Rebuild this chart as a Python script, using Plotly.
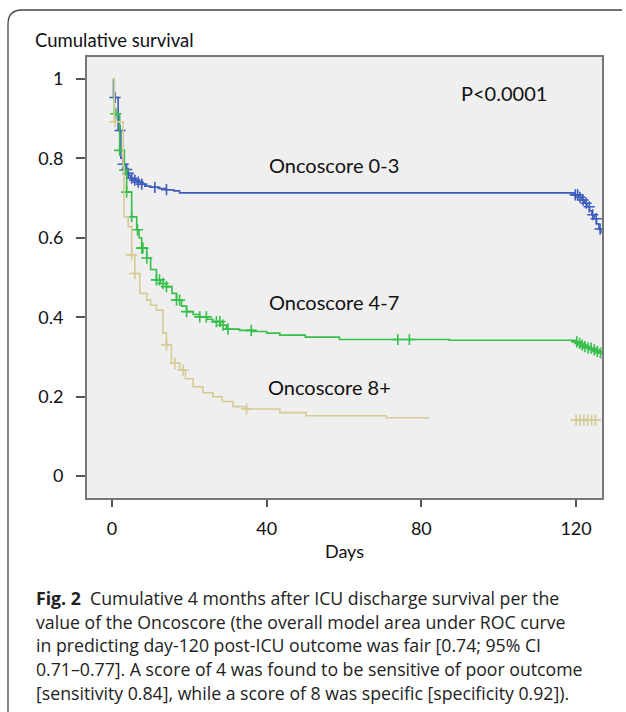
import plotly.graph_objects as go
import bisect

# ---------------- data ----------------
blue_t = [0.3, 0.4, 1.6, 2.3, 2.9, 3.4, 3.9, 4.4, 4.9, 5.6, 6.5, 7.5, 8.5, 10, 12, 14, 16, 17.5,
          119.5, 120.5, 121.5, 122.2, 122.8, 123.5, 124.1, 124.7, 125.3, 125.9, 126.4]
blue_s = [1.0, 0.953, 0.87, 0.80, 0.785, 0.772, 0.762, 0.756, 0.75, 0.745, 0.74, 0.735, 0.73,
          0.727, 0.724, 0.721, 0.718, 0.713, 0.708, 0.702, 0.695, 0.687, 0.678, 0.668, 0.658,
          0.648, 0.635, 0.622, 0.612]
blue_censor = [0.8, 2.1, 2.9, 3.8, 4.2, 5.1, 5.9, 6.8, 7.7, 11.1, 14.1,
               119.8, 120.4, 121.0, 121.8, 122.6, 123.4, 124.3, 125.2, 126.2]

green_t = [0.3, 0.6, 2.0, 3.2, 3.8, 5.1, 6.4, 7.0, 7.7, 9.0, 10.0, 11.5, 12.5, 14.1, 15.5, 16.7,
           18.0, 19.3, 21.0, 22.7, 24.5, 26.1, 28.0, 29.6, 33.0, 36.4, 40.0, 43.4, 50.0, 58.8,
           87.2, 120.0, 120.8, 121.5, 122.3, 123.0, 124.0, 124.8, 125.6, 126.4]
green_s = [1.0, 0.912, 0.82, 0.77, 0.715, 0.653, 0.62, 0.60, 0.574, 0.549, 0.52, 0.494, 0.485,
           0.477, 0.46, 0.443, 0.428, 0.414, 0.407, 0.401, 0.395, 0.389, 0.38, 0.37, 0.367,
           0.364, 0.36, 0.355, 0.35, 0.344, 0.342, 0.338, 0.334, 0.33, 0.326, 0.322, 0.318,
           0.314, 0.31, 0.305]
green_censor = [1.0, 2.0, 3.3, 3.8, 5.1, 6.6, 7.7, 8.0, 9.0, 11.5, 12.3, 13.2, 14.1, 16.7, 17.5,
                19.3, 22.7, 24.4, 27.0, 27.9, 28.7, 30.0, 36.0, 73.9, 76.9,
                120.2, 120.9, 121.6, 122.3, 123.1, 123.9, 124.7, 125.5, 126.3]

tan_t = [0.3, 0.6, 2.9, 3.1, 4.2, 5.1, 5.9, 7.2, 9.0, 10.0, 11.5, 13.2, 14.1, 15.4, 17.5, 19.0,
         21.0, 23.5, 26.1, 28.5, 31.3, 34.8, 43.4, 50.2, 70.9, 82.0]
tan_s = [1.0, 0.892, 0.78, 0.653, 0.628, 0.557, 0.51, 0.46, 0.443, 0.43, 0.418, 0.36, 0.33,
         0.284, 0.267, 0.245, 0.225, 0.21, 0.20, 0.188, 0.175, 0.169, 0.160, 0.152, 0.147, 0.147]
tan_censor = [0.8, 5.1, 5.9, 14.1, 16.3, 18.4, 34.8]
tan_late_censor = [120.0, 121.0, 122.0, 123.0, 124.0, 125.0]
tan_late_level = 0.141

x_ticks = [0, 40, 80, 120]
y_ticks = [0, 0.2, 0.4, 0.6, 0.8, 1.0]
y_tick_labels = ["0", "0.2", "0.4", "0.6", "0.8", "1"]

curve_labels = ["Oncoscore 0-3", "Oncoscore 4-7", "Oncoscore 8+"]
curve_label_pos = [(57.5, 0.783), (57.3, 0.439), (56.3, 0.224)]
p_text = "P<0.0001"
p_pos = (101.4, 0.965)

caption_lines = [
    "<b>Fig. 2</b>  Cumulative 4 months after ICU discharge survival per the",
    "value of the Oncoscore (the overall model area under ROC curve",
    "in predicting day-120 post-ICU outcome was fair [0.74; 95% CI",
    "0.71\u20130.77]. A score of 4 was found to be sensitive of poor outcome",
    "[sensitivity 0.84], while a score of 8 was specific [specificity 0.92]).",
]

colors = ["#3e5cbd", "#36bf4b", "#d5cb94"]

# ---------------- figure ----------------
W, H = 626, 712
def px(x):
    return x / W
def py(y):
    return 1 - y / H

def step_at(ts, ss, t):
    i = bisect.bisect_right(ts, t) - 1
    return ss[max(i, 0)]

fig = go.Figure()
series = [(blue_t, blue_s, blue_censor), (green_t, green_s, green_censor), (tan_t, tan_s, tan_censor)]
for (ts, ss, cs), c in zip(series, colors):
    fig.add_trace(go.Scatter(x=ts, y=ss, mode="lines", line=dict(color=c, width=1.6, shape="hv"),
                             hoverinfo="skip", showlegend=False))
    fig.add_trace(go.Scatter(x=cs, y=[step_at(ts, ss, t) for t in cs], mode="markers",
                             marker=dict(symbol="cross-thin", size=8, line=dict(color=c, width=1.6)),
                             hoverinfo="skip", showlegend=False))
fig.add_trace(go.Scatter(x=tan_late_censor, y=[tan_late_level] * len(tan_late_censor), mode="markers",
                         marker=dict(symbol="cross-thin", size=8, line=dict(color=colors[2], width=1.6)),
                         hoverinfo="skip", showlegend=False))

font_main = "Lato, 'Open Sans', sans-serif"

for txt, (x, y) in zip(curve_labels, curve_label_pos):
    fig.add_annotation(x=x, y=y, text=txt, showarrow=False, xref="x", yref="y",
                       font=dict(family=font_main, size=20, color="#111"))
fig.add_annotation(x=p_pos[0], y=p_pos[1], text=p_text, showarrow=False, xref="x", yref="y",
                   font=dict(family=font_main, size=20, color="#111"))

fig.add_annotation(x=px(33), y=py(40), text="Cumulative survival", showarrow=False, xref="paper",
                   yref="paper", xanchor="left", yanchor="middle",
                   font=dict(family=font_main, size=18.5, color="#111"))

for i, line in enumerate(caption_lines):
    fig.add_annotation(x=px(34), y=py(598 + 23.7 * i), text=line, showarrow=False, xref="paper",
                       yref="paper", xanchor="left", yanchor="middle",
                       font=dict(family="'Open Sans', sans-serif", size=17.7, color="#222"))

# outer rounded frame
frame = f"M {px(8)},{py(712)} L {px(8)},{py(24)} Q {px(8)},{py(10)} {px(22)},{py(10)} L {px(622)},{py(10)}"
fig.add_shape(type="path", path=frame, xref="paper", yref="paper", line=dict(color="#444", width=1.3))

fig.update_layout(
    width=W, height=H, margin=dict(l=0, r=0, t=0, b=0),
    paper_bgcolor="white", plot_bgcolor="#efefef",
    xaxis=dict(domain=[px(87), px(602)], range=[-6.45, 126.7], tickvals=x_ticks,
               ticks="outside", ticklen=7, tickwidth=2, tickcolor="#555", showgrid=False, zeroline=False,
               showline=True, linecolor="#777", linewidth=2, mirror=True, ticklabelstandoff=6,
               tickfont=dict(family=font_main, size=18, color="#111"),
               title=dict(text="Days", font=dict(family=font_main, size=18, color="#111"), standoff=8)),
    yaxis=dict(domain=[py(498), py(57)], range=[-0.055, 1.055], tickvals=y_ticks, ticktext=y_tick_labels,
               ticks="outside", ticklen=9, tickwidth=2, tickcolor="#555", showgrid=False, zeroline=False,
               showline=True, linecolor="#777", linewidth=2, mirror=True, ticklabelstandoff=9,
               tickfont=dict(family=font_main, size=18, color="#111")),
)

fig.write_html("out.html", config={"displayModeBar": False},
               post_script="document.body.style.margin='0';document.body.style.overflow='hidden';")
